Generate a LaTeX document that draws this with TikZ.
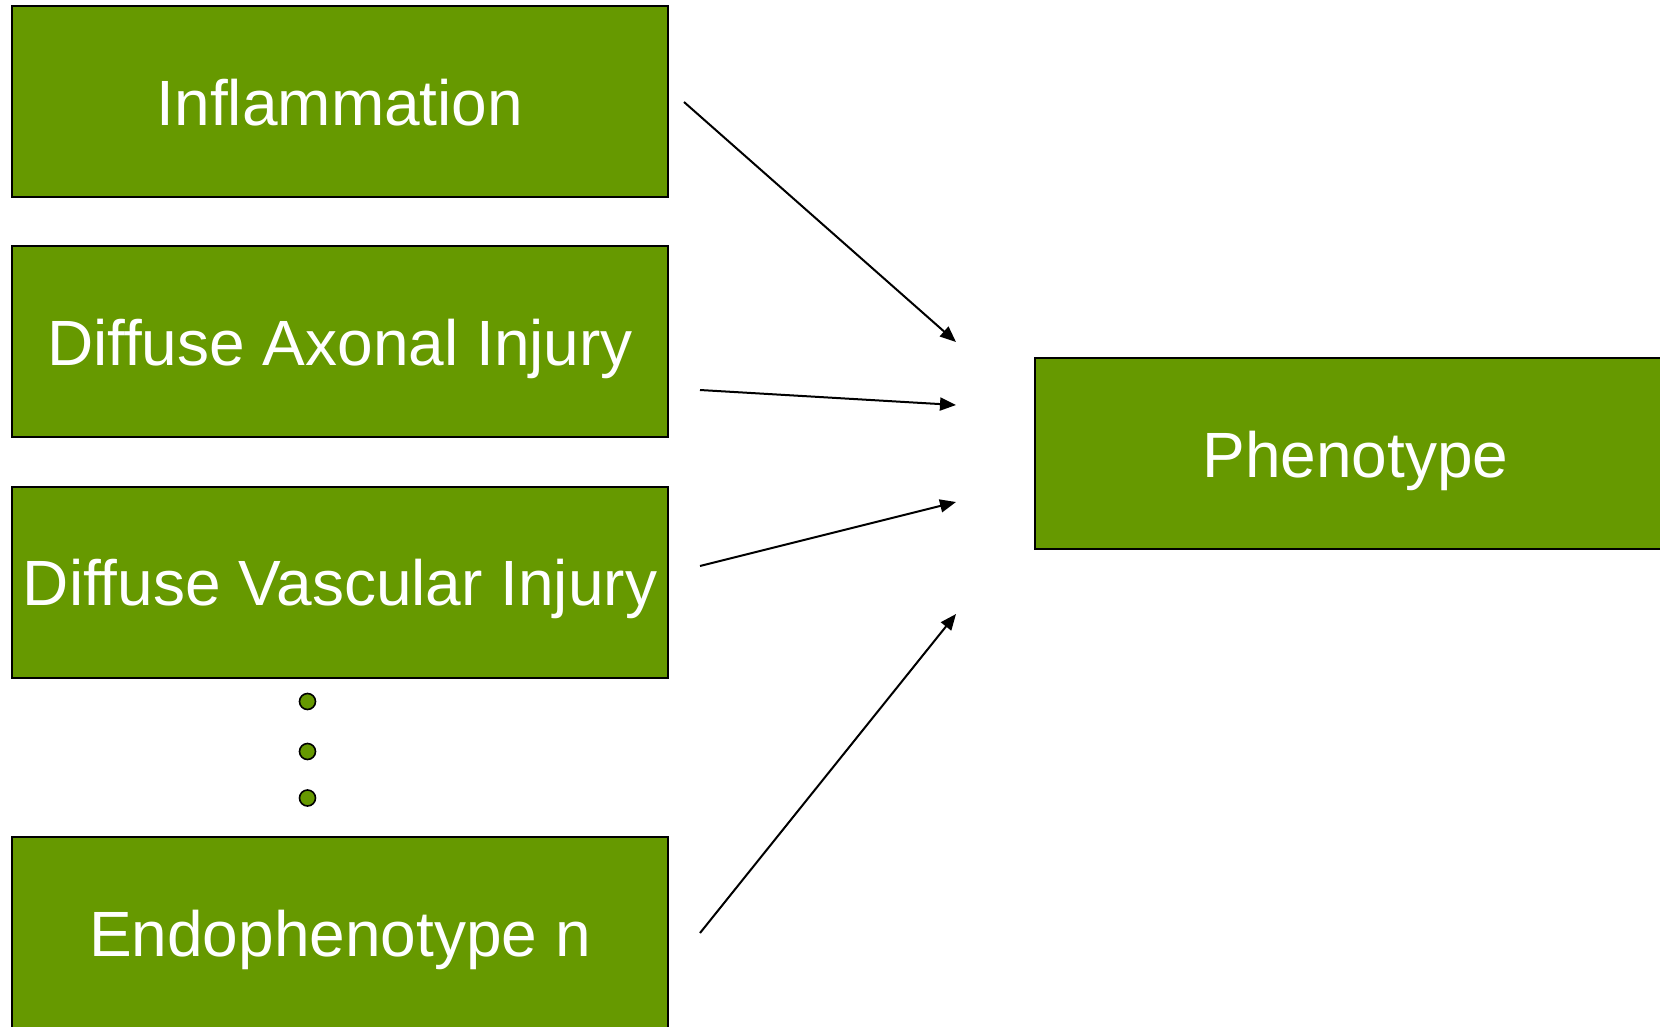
\documentclass[tikz,border=0pt]{standalone}
\usepackage{fontspec}
\setmainfont{Liberation Sans}
\usetikzlibrary{arrows.meta}
\definecolor{boxgreen}{HTML}{669900}
\tikzset{
  greenbox/.style={draw=black, line width=2pt, fill=boxgreen, text=white,
    minimum width=656pt, minimum height=191pt, inner sep=0pt, outer sep=0pt,
    text height=47pt, text depth=0pt,
    font=\fontsize{64}{76}\selectfont},
  link/.style={line width=2pt, -{Triangle[length=16pt,width=13pt]}},
  dotc/.style={circle, draw=black, line width=1.6pt, fill=boxgreen,
    minimum size=16pt, inner sep=0pt}
}
\begin{document}
\begin{tikzpicture}[x=1pt,y=-1pt]
\useasboundingbox (0,0) rectangle (1660,1026);
\clip (0,0) rectangle (1660,1026);
\node[greenbox] (infl) at (340,101.5) {Inflammation};
\node[greenbox] (dai) at (340,341.5) {Diffuse Axonal Injury};
\node[greenbox] (dvi) at (340,582) {Diffuse Vascular Injury};
\node[greenbox] (endo) at (340,932.5) {Endophenotype n};
\node[greenbox, minimum width=641pt] (pheno) at (1355.5,453.5) {Phenotype};
\node[dotc] (d1) at (307.5,701.5) {};
\node[dotc] (d2) at (307.5,751.5) {};
\node[dotc] (d3) at (307.5,798) {};
\coordinate (s1) at (684,102);
\coordinate (e1) at (956,342);
\coordinate (s2) at (700,390);
\coordinate (e2) at (956,405);
\coordinate (s3) at (700,566);
\coordinate (e3) at (956,502);
\coordinate (s4) at (700,933);
\coordinate (e4) at (956,614);
\draw[link] (s1) -- (e1);
\draw[link] (s2) -- (e2);
\draw[link] (s3) -- (e3);
\draw[link] (s4) -- (e4);
\end{tikzpicture}
\end{document}
